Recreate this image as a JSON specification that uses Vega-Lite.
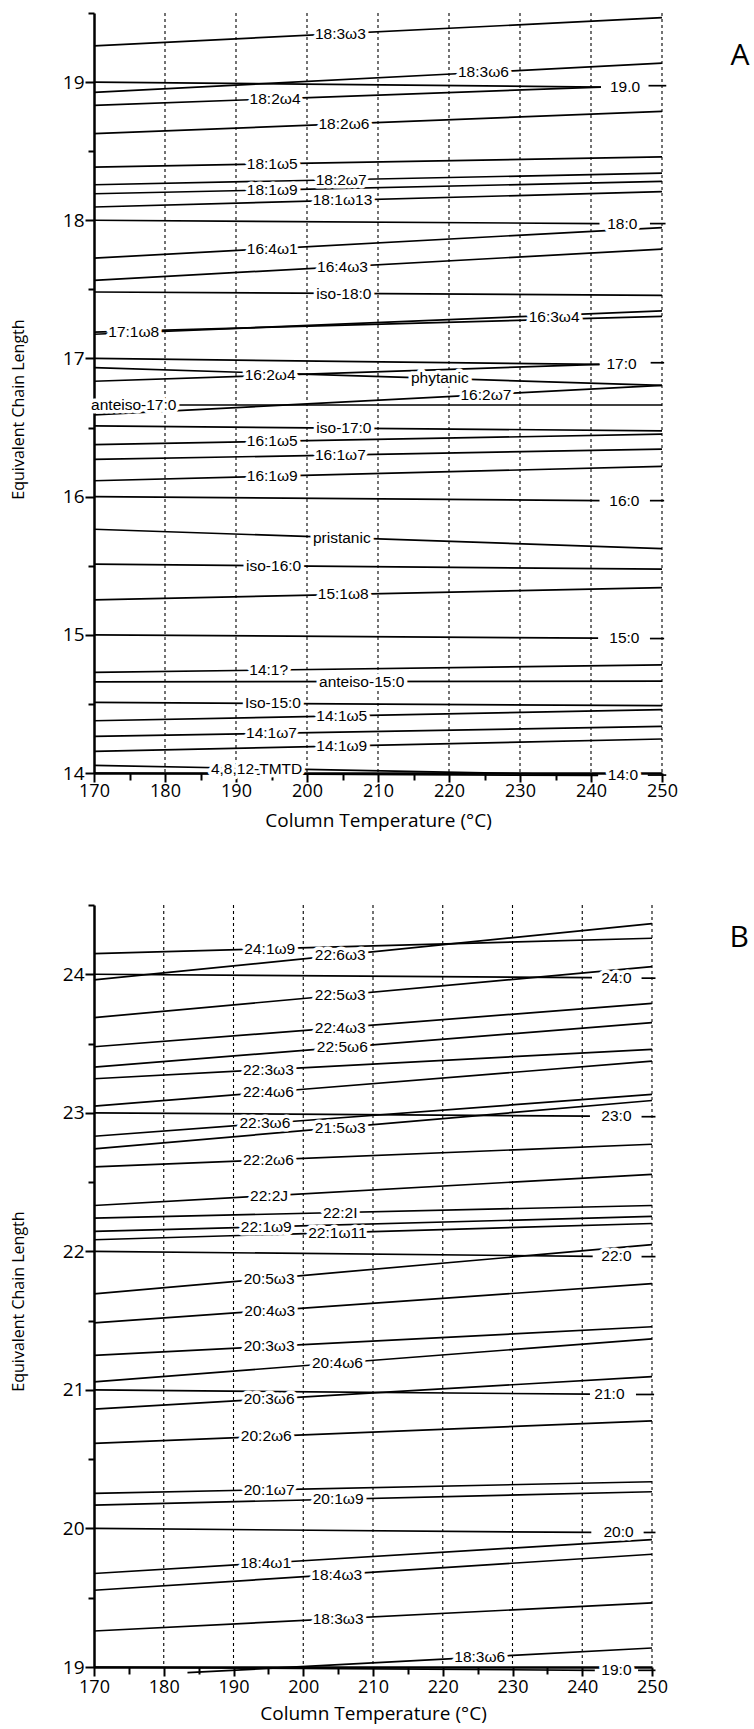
{
  "$schema": "https://vega.github.io/schema/vega-lite/v6.json",
  "padding": {"left": 10, "top": 4, "right": 0, "bottom": 20},
  "background": "white",
  "config": {
    "view": {"stroke": null},
    "axis": {
      "domainColor": "black", "domainWidth": 2.5, "tickColor": "black", "tickWidth": 2,
      "labelColor": "black", "titleColor": "black", "labelFont": "Open Sans", "titleFont": "Open Sans",
      "titleFontWeight": "normal", "grid": false, "labelFlush": false, "labelOverlap": false
    },
    "axisX": {
      "values": [170,175,180,185,190,195,200,205,210,215,220,225,230,235,240,245,250],
      "labelExpr": "datum.value % 10 === 0 ? format(datum.value, 'd') : ''",
      "tickSize": {"condition": {"test": "datum.value % 10 === 0", "value": 9}, "value": 7},
      "labelFontSize": 18, "labelPadding": 0, "titleFontSize": 19, "titlePadding": 11
    },
    "axisY": {
      "labelExpr": "datum.value % 1 === 0 ? format(datum.value, 'd') : ''",
      "tickSize": {"condition": {"test": "datum.value % 1 === 0", "value": 9}, "value": 6},
      "labelFontSize": 19, "labelPadding": 1, "titleFontSize": 16, "titlePadding": 36, "titleY": 396
    }
  },
  "datasets": {
    "grid": [{"t": 180}, {"t": 190}, {"t": 200}, {"t": 210}, {"t": 220}, {"t": 230}, {"t": 240}, {"t": 250}],
    "segA": [
      {"t1": 170, "e1": 19.262, "t2": 250, "e2": 19.466},
      {"t1": 170, "e1": 19.0, "t2": 241.4, "e2": 18.964},
      {"t1": 248.1, "e1": 18.974, "t2": 250.6, "e2": 18.974},
      {"t1": 170, "e1": 18.925, "t2": 250, "e2": 19.137},
      {"t1": 170, "e1": 18.832, "t2": 241.4, "e2": 18.964},
      {"t1": 170, "e1": 18.627, "t2": 250, "e2": 18.788},
      {"t1": 170, "e1": 18.385, "t2": 250, "e2": 18.459},
      {"t1": 170, "e1": 18.257, "t2": 250, "e2": 18.341},
      {"t1": 170, "e1": 18.192, "t2": 250, "e2": 18.281},
      {"t1": 170, "e1": 18.096, "t2": 250, "e2": 18.207},
      {"t1": 170, "e1": 18.0, "t2": 241.2, "e2": 17.976},
      {"t1": 248.3, "e1": 17.976, "t2": 250.5, "e2": 17.976},
      {"t1": 170, "e1": 17.726, "t2": 250, "e2": 17.947},
      {"t1": 170, "e1": 17.565, "t2": 250, "e2": 17.791},
      {"t1": 170, "e1": 17.481, "t2": 250, "e2": 17.457},
      {"t1": 170, "e1": 17.19, "t2": 250, "e2": 17.305},
      {"t1": 170, "e1": 17.175, "t2": 250, "e2": 17.345},
      {"t1": 170, "e1": 17.0, "t2": 241.2, "e2": 16.957},
      {"t1": 248.4, "e1": 16.969, "t2": 250.3, "e2": 16.969},
      {"t1": 170, "e1": 16.933, "t2": 250, "e2": 16.805},
      {"t1": 170, "e1": 16.835, "t2": 241.2, "e2": 16.957},
      {"t1": 170, "e1": 16.591, "t2": 250, "e2": 16.805},
      {"t1": 170, "e1": 16.663, "t2": 250, "e2": 16.663},
      {"t1": 170, "e1": 16.512, "t2": 250, "e2": 16.476},
      {"t1": 170, "e1": 16.377, "t2": 250, "e2": 16.452},
      {"t1": 170, "e1": 16.269, "t2": 250, "e2": 16.344},
      {"t1": 170, "e1": 16.115, "t2": 250, "e2": 16.219},
      {"t1": 170, "e1": 16.0, "t2": 241.2, "e2": 15.971},
      {"t1": 248.3, "e1": 15.971, "t2": 250.3, "e2": 15.971},
      {"t1": 170, "e1": 15.764, "t2": 250, "e2": 15.624},
      {"t1": 170, "e1": 15.511, "t2": 250, "e2": 15.475},
      {"t1": 170, "e1": 15.253, "t2": 250, "e2": 15.342},
      {"t1": 170, "e1": 15.0, "t2": 241.0, "e2": 14.976},
      {"t1": 248.3, "e1": 14.973, "t2": 250.3, "e2": 14.973},
      {"t1": 170, "e1": 14.728, "t2": 250, "e2": 14.783},
      {"t1": 170, "e1": 14.66, "t2": 250, "e2": 14.665},
      {"t1": 170, "e1": 14.511, "t2": 250, "e2": 14.487},
      {"t1": 170, "e1": 14.378, "t2": 250, "e2": 14.458},
      {"t1": 170, "e1": 14.265, "t2": 250, "e2": 14.337},
      {"t1": 170, "e1": 14.157, "t2": 250, "e2": 14.246},
      {"t1": 170, "e1": 14.055, "t2": 241.0, "e2": 13.985},
      {"t1": 170, "e1": 14.0, "t2": 241.0, "e2": 13.982},
      {"t1": 248.0, "e1": 13.985, "t2": 250.6, "e2": 13.985}
    ],
    "labA": [
      {"name": "18:3ω3", "t": 204.7, "e": 19.35},
      {"name": "18:3ω6", "t": 224.85, "e": 19.07},
      {"name": "19.0", "t": 244.8, "e": 18.967},
      {"name": "18:2ω4", "t": 195.5, "e": 18.879},
      {"name": "18:2ω6", "t": 205.2, "e": 18.698},
      {"name": "18:1ω5", "t": 195.1, "e": 18.408},
      {"name": "18:2ω7", "t": 204.8, "e": 18.294},
      {"name": "18:1ω9", "t": 195.1, "e": 18.22},
      {"name": "18:1ω13", "t": 205.0, "e": 18.145},
      {"name": "18:0", "t": 244.4, "e": 17.975},
      {"name": "16:4ω1", "t": 195.1, "e": 17.795},
      {"name": "16:4ω3", "t": 205.0, "e": 17.664},
      {"name": "iso-18:0", "t": 205.2, "e": 17.47},
      {"name": "17:1ω8", "t": 175.6, "e": 17.19},
      {"name": "16:3ω4", "t": 234.8, "e": 17.3},
      {"name": "17:0", "t": 244.3, "e": 16.96},
      {"name": "16:2ω4", "t": 194.8, "e": 16.877},
      {"name": "phytanic", "t": 218.7, "e": 16.855},
      {"name": "16:2ω7", "t": 225.2, "e": 16.739},
      {"name": "anteiso-17:0", "t": 175.6, "e": 16.663},
      {"name": "iso-17:0", "t": 205.2, "e": 16.496},
      {"name": "16:1ω5", "t": 195.1, "e": 16.401},
      {"name": "16:1ω7", "t": 204.7, "e": 16.302},
      {"name": "16:1ω9", "t": 195.1, "e": 16.148},
      {"name": "16:0", "t": 244.7, "e": 15.97},
      {"name": "pristanic", "t": 204.9, "e": 15.703},
      {"name": "iso-16:0", "t": 195.3, "e": 15.5},
      {"name": "15:1ω8", "t": 205.1, "e": 15.292},
      {"name": "15:0", "t": 244.7, "e": 14.974},
      {"name": "14:1?", "t": 194.6, "e": 14.745},
      {"name": "anteiso-15:0", "t": 207.7, "e": 14.662},
      {"name": "Iso-15:0", "t": 195.2, "e": 14.503},
      {"name": "14:1ω5", "t": 204.9, "e": 14.413},
      {"name": "14:1ω7", "t": 195.0, "e": 14.288},
      {"name": "14:1ω9", "t": 204.9, "e": 14.196},
      {"name": "4,8,12-TMTD", "t": 192.9, "e": 14.032},
      {"name": "14:0", "t": 244.5, "e": 13.985}
    ],
    "segB": [
      {"t1": 170, "e1": 24.149, "t2": 250, "e2": 24.26},
      {"t1": 170, "e1": 23.959, "t2": 250, "e2": 24.366},
      {"t1": 170, "e1": 24.0, "t2": 241.4, "e2": 23.976},
      {"t1": 248.5, "e1": 23.972, "t2": 250.5, "e2": 23.972},
      {"t1": 170, "e1": 23.687, "t2": 250, "e2": 24.055},
      {"t1": 170, "e1": 23.477, "t2": 250, "e2": 23.79},
      {"t1": 170, "e1": 23.33, "t2": 250, "e2": 23.651},
      {"t1": 170, "e1": 23.246, "t2": 250, "e2": 23.458},
      {"t1": 170, "e1": 23.048, "t2": 250, "e2": 23.373},
      {"t1": 170, "e1": 23.0, "t2": 241.1, "e2": 22.976},
      {"t1": 248.5, "e1": 22.972, "t2": 250.5, "e2": 22.972},
      {"t1": 170, "e1": 22.831, "t2": 250, "e2": 23.133},
      {"t1": 170, "e1": 22.74, "t2": 250, "e2": 23.089},
      {"t1": 170, "e1": 22.61, "t2": 250, "e2": 22.773},
      {"t1": 170, "e1": 22.331, "t2": 250, "e2": 22.556},
      {"t1": 170, "e1": 22.24, "t2": 250, "e2": 22.331},
      {"t1": 170, "e1": 22.144, "t2": 250, "e2": 22.252},
      {"t1": 170, "e1": 22.084, "t2": 250, "e2": 22.201},
      {"t1": 170, "e1": 22.0, "t2": 241.5, "e2": 21.964},
      {"t1": 248.5, "e1": 21.962, "t2": 250.5, "e2": 21.962},
      {"t1": 170, "e1": 21.693, "t2": 250, "e2": 22.048},
      {"t1": 170, "e1": 21.484, "t2": 250, "e2": 21.767},
      {"t1": 170, "e1": 21.249, "t2": 250, "e2": 21.456},
      {"t1": 170, "e1": 21.058, "t2": 250, "e2": 21.369},
      {"t1": 170, "e1": 21.0, "t2": 241.1, "e2": 20.969},
      {"t1": 247.7, "e1": 20.967, "t2": 250.3, "e2": 20.967},
      {"t1": 170, "e1": 20.861, "t2": 250, "e2": 21.096},
      {"t1": 170, "e1": 20.614, "t2": 250, "e2": 20.777},
      {"t1": 170, "e1": 20.253, "t2": 250, "e2": 20.337},
      {"t1": 170, "e1": 20.169, "t2": 250, "e2": 20.265},
      {"t1": 170, "e1": 20.0, "t2": 241.3, "e2": 19.971},
      {"t1": 248.8, "e1": 19.971, "t2": 250.5, "e2": 19.971},
      {"t1": 170, "e1": 19.675, "t2": 250, "e2": 19.92},
      {"t1": 170, "e1": 19.554, "t2": 250, "e2": 19.814},
      {"t1": 170, "e1": 19.26, "t2": 250, "e2": 19.463},
      {"t1": 183.4, "e1": 18.959, "t2": 250, "e2": 19.137},
      {"t1": 170, "e1": 19.0, "t2": 241.8, "e2": 18.976},
      {"t1": 248.0, "e1": 18.976, "t2": 250.5, "e2": 18.976}
    ],
    "labB": [
      {"name": "24:1ω9", "t": 195.2, "e": 24.184},
      {"name": "22:6ω3", "t": 205.3, "e": 24.139},
      {"name": "24:0", "t": 244.9, "e": 23.974},
      {"name": "22:5ω3", "t": 205.3, "e": 23.849},
      {"name": "22:4ω3", "t": 205.3, "e": 23.615},
      {"name": "22:5ω6", "t": 205.6, "e": 23.473},
      {"name": "22:3ω3", "t": 195.0, "e": 23.312},
      {"name": "22:4ω6", "t": 195.0, "e": 23.15},
      {"name": "23:0", "t": 244.9, "e": 22.974},
      {"name": "22:3ω6", "t": 194.5, "e": 22.923},
      {"name": "21:5ω3", "t": 205.3, "e": 22.894},
      {"name": "22:2ω6", "t": 195.0, "e": 22.661},
      {"name": "22:2J", "t": 195.1, "e": 22.402},
      {"name": "22:2I", "t": 205.3, "e": 22.28},
      {"name": "22:1ω9", "t": 194.7, "e": 22.177},
      {"name": "22:1ω11", "t": 204.9, "e": 22.135},
      {"name": "22:0", "t": 244.9, "e": 21.963},
      {"name": "20:5ω3", "t": 195.1, "e": 21.804},
      {"name": "20:4ω3", "t": 195.2, "e": 21.573},
      {"name": "20:3ω3", "t": 195.1, "e": 21.314},
      {"name": "20:4ω6", "t": 204.9, "e": 21.194},
      {"name": "21:0", "t": 243.9, "e": 20.968},
      {"name": "20:3ω6", "t": 195.1, "e": 20.935},
      {"name": "20:2ω6", "t": 194.7, "e": 20.664},
      {"name": "20:1ω7", "t": 195.1, "e": 20.279},
      {"name": "20:1ω9", "t": 205.0, "e": 20.211},
      {"name": "20:0", "t": 245.2, "e": 19.971},
      {"name": "18:4ω1", "t": 194.6, "e": 19.75},
      {"name": "18:4ω3", "t": 204.8, "e": 19.667},
      {"name": "18:3ω3", "t": 205.0, "e": 19.349},
      {"name": "18:3ω6", "t": 225.3, "e": 19.071},
      {"name": "19:0", "t": 244.9, "e": 18.976}
    ],
    "tagA": [{"t": 261, "e": 19.19, "tag": "A"}],
    "tagB": [{"t": 262.5, "e": 24.26, "tag": "B"}]
  },
  "vconcat": [
    {
      "width": 568,
      "height": 760,
      "encoding": {
        "x": {"type": "quantitative", "scale": {"domain": [170, 250], "nice": false, "zero": false}, "title": "Column Temperature (°C)"},
        "y": {"type": "quantitative", "scale": {"domain": [14, 19.5], "nice": false, "zero": false}, "title": "Equivalent Chain Length",
          "axis": {"values": [14,14.5,15,15.5,16,16.5,17,17.5,18,18.5,19,19.5]}}
      },
      "layer": [
        {
          "data": {"name": "grid"},
          "mark": {"type": "rule", "strokeDash": [3, 3], "strokeWidth": 1.1, "color": "black"},
          "encoding": {"x": {"field": "t"}, "y": null}
        },
        {
          "data": {"name": "segA"},
          "mark": {"type": "rule", "strokeWidth": 1.7, "color": "black"},
          "encoding": {"x": {"field": "t1"}, "x2": {"field": "t2"}, "y": {"field": "e1"}, "y2": {"field": "e2"}}
        },
        {
          "data": {"name": "labA"},
          "mark": {"type": "text", "font": "Liberation Sans", "fontSize": 15.5, "fill": "white", "stroke": "white", "strokeWidth": 7, "strokeJoin": "round"},
          "encoding": {"x": {"field": "t"}, "y": {"field": "e"}, "text": {"field": "name"}}
        },
        {
          "data": {"name": "labA"},
          "mark": {"type": "text", "font": "Liberation Sans", "fontSize": 15.5, "color": "black"},
          "encoding": {"x": {"field": "t"}, "y": {"field": "e"}, "text": {"field": "name"}}
        },
        {
          "data": {"name": "tagA"},
          "mark": {"type": "text", "font": "Open Sans", "fontSize": 30, "color": "black"},
          "encoding": {"x": {"field": "t"}, "y": {"field": "e"}, "text": {"field": "tag"}}
        }
      ]
    },
    {
      "width": 558,
      "height": 762,
      "encoding": {
        "x": {"type": "quantitative", "scale": {"domain": [170, 250], "nice": false, "zero": false}, "title": "Column Temperature (°C)",
          "axis": {"labelPadding": 2, "titlePadding": 8}},
        "y": {"type": "quantitative", "scale": {"domain": [19, 24.5], "nice": false, "zero": false}, "title": "Equivalent Chain Length",
          "axis": {"values": [19,19.5,20,20.5,21,21.5,22,22.5,23,23.5,24,24.5]}}
      },
      "layer": [
        {
          "data": {"name": "grid"},
          "mark": {"type": "rule", "strokeDash": [3, 3], "strokeWidth": 1.1, "color": "black"},
          "encoding": {"x": {"field": "t"}, "y": null}
        },
        {
          "data": {"name": "segB"},
          "mark": {"type": "rule", "strokeWidth": 1.7, "color": "black"},
          "encoding": {"x": {"field": "t1"}, "x2": {"field": "t2"}, "y": {"field": "e1"}, "y2": {"field": "e2"}}
        },
        {
          "data": {"name": "labB"},
          "mark": {"type": "text", "font": "Liberation Sans", "fontSize": 15.5, "fill": "white", "stroke": "white", "strokeWidth": 7, "strokeJoin": "round"},
          "encoding": {"x": {"field": "t"}, "y": {"field": "e"}, "text": {"field": "name"}}
        },
        {
          "data": {"name": "labB"},
          "mark": {"type": "text", "font": "Liberation Sans", "fontSize": 15.5, "color": "black"},
          "encoding": {"x": {"field": "t"}, "y": {"field": "e"}, "text": {"field": "name"}}
        },
        {
          "data": {"name": "tagB"},
          "mark": {"type": "text", "font": "Open Sans", "fontSize": 30, "color": "black"},
          "encoding": {"x": {"field": "t"}, "y": {"field": "e"}, "text": {"field": "tag"}}
        }
      ]
    }
  ],
  "spacing": 132,
  "bounds": "flush"
}
